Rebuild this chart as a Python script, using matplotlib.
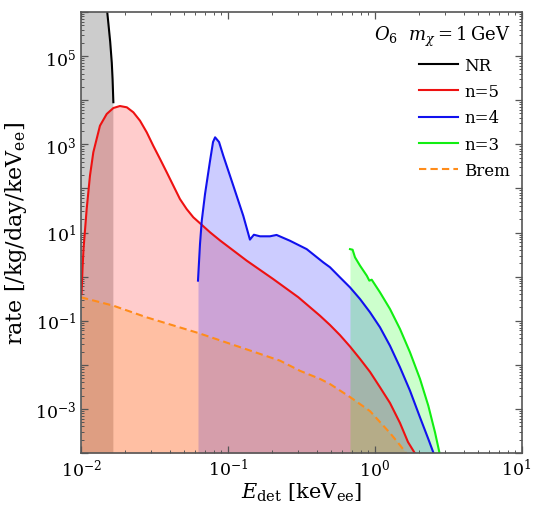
import numpy as np
import matplotlib
matplotlib.use("Agg")
import matplotlib.pyplot as plt
from matplotlib.transforms import ScaledTranslation

plt.rcParams["font.family"] = ["DejaVu Serif"]
plt.rcParams["mathtext.fontset"] = "dejavuserif"

# energies [keVee] and rates [/kg/day/keVee]
nr_x = [0.0100, 0.0120, 0.0135, 0.0146, 0.0150, 0.0154, 0.0158, 0.0162, 0.0164, 0.0166]
nr_y = [1e9, 1e8, 1.5e7, 4e6, 1.2e6, 5e5, 2.1e5, 7e4, 3e4, 9e3]

n5_x = [0.01008, 0.01024, 0.0104, 0.01093, 0.01151, 0.01213, 0.01346, 0.01496, 0.0166,
        0.0184, 0.0205, 0.0227, 0.0252, 0.0280, 0.0310, 0.0345, 0.0383, 0.0425, 0.0471,
        0.0523, 0.0581, 0.0645, 0.0755, 0.0883, 0.134, 0.203, 0.301, 0.422, 0.494,
        0.578, 0.676, 0.791, 0.925, 1.081, 1.265, 1.479, 1.677, 1.90]
n5_y = [0.40, 1.5, 4.2, 34, 194, 660, 2640, 4870, 6650, 7380, 6900, 5320, 3430, 1870,
        929, 464, 232, 115, 57.5, 34.1, 22.1, 16.2, 10.1, 6.6, 2.3, 0.88, 0.34, 0.13,
        0.080, 0.047, 0.026, 0.0136, 0.0069, 0.0031, 0.00136, 4.8e-4, 1.77e-4, 9e-5]

n4_x = [0.0625, 0.0645, 0.0663, 0.0698, 0.0755, 0.0791, 0.0817, 0.0869, 0.0929, 0.1087,
        0.127, 0.141, 0.150, 0.165, 0.193, 0.214, 0.264, 0.343, 0.445, 0.494, 0.578,
        0.676, 0.791, 0.925, 1.081, 1.265, 1.479, 1.730, 2.023, 2.305, 2.49, 2.55]
n4_y = [0.81, 5.5, 18.5, 75, 425, 1127, 1440, 1127, 551, 115, 24, 6.9, 8.9, 8.2, 8.2,
        8.8, 6.5, 4.2, 2.1, 1.63, 0.96, 0.57, 0.31, 0.155, 0.071, 0.027, 0.0088,
        0.00259, 6.45e-4, 2.08e-4, 1.04e-4, 5e-5]

n3_x = [0.676, 0.704, 0.731, 0.791, 0.879, 0.915, 0.950, 1.081, 1.265, 1.479, 1.730,
        2.023, 2.305, 2.56, 2.74, 2.80]
n3_y = [4.2, 4.07, 2.74, 1.77, 1.05, 0.81, 0.85, 0.44, 0.184, 0.065, 0.0192, 0.0048,
        0.00118, 2.94e-4, 1.04e-4, 5e-5]

brem_x = [0.0100, 0.0166, 0.0280, 0.0628, 0.226, 0.309, 0.422, 0.494, 0.676, 0.925,
          1.265, 1.479, 1.61, 1.66]
brem_y = [0.34, 0.219, 0.119, 0.0526, 0.0124, 0.0073, 0.0048, 0.00367, 0.00186,
          8.9e-4, 2.84e-4, 1.51e-4, 1.04e-4, 5e-5]

xticks = [1e-2, 1e-1, 1e0, 1e1]
xticklabels = [r"$10^{-2}$", r"$10^{-1}$", r"$10^{0}$", r"$10^{1}$"]

ymin, ymax = 1e-4, 1e6

fig = plt.figure(figsize=(5.35, 5.10), dpi=100)
ax = fig.add_axes([0.1514, 0.1098, 0.8243, 0.8647])

ax.fill_between(nr_x, nr_y, ymin, color="black", alpha=0.2, lw=0)
ax.fill_between(n5_x, n5_y, ymin, color="red", alpha=0.2, lw=0)
ax.fill_between(n4_x, n4_y, ymin, color="blue", alpha=0.2, lw=0)
ax.fill_between(n3_x, n3_y, ymin, color="#00ff00", alpha=0.2, lw=0)
ax.fill_between(brem_x, brem_y, ymin, color="#ff8c00", alpha=0.2, lw=0)

ax.plot(nr_x, nr_y, color="black", lw=1.5, label="NR")
ax.plot(n5_x, n5_y, color="#ee1111", lw=1.5, label="n=5")
ax.plot(n4_x, n4_y, color="#1111ee", lw=1.5, label="n=4")
ax.plot(n3_x, n3_y, color="#11ee11", lw=1.5, label="n=3")
ax.plot(brem_x, brem_y, color="#ff8c1a", lw=1.5, ls=(0, (3.5, 2)), label="Brem")

ax.set_xscale("log")
ax.set_yscale("log")
ax.set_xlim(1e-2, 1e1)
ax.set_ylim(ymin, ymax)

ax.set_xticks(xticks, labels=xticklabels)
ax.yaxis.set_major_locator(matplotlib.ticker.LogLocator(base=10, numticks=20))
ax.yaxis.set_minor_locator(matplotlib.ticker.LogLocator(base=10, subs=np.arange(2, 10), numticks=20))
ax.yaxis.set_major_formatter(matplotlib.ticker.FuncFormatter(
    lambda v, p: r"$10^{%d}$" % round(np.log10(v)) if round(np.log10(v)) % 2 else ""))
ax.yaxis.set_minor_formatter(matplotlib.ticker.NullFormatter())

ax.tick_params(which="both", direction="in", top=True, right=True, labelsize=12.5, color="#555555")
ax.tick_params(which="major", length=5, width=0.9)
ax.tick_params(which="minor", length=2.5, width=0.7)
for s in ax.spines.values():
    s.set_color("#555555")
    s.set_linewidth(1.2)

# nudge the last x label so it stays inside the canvas
last = ax.xaxis.get_major_ticks()[-1].label1
last.set_transform(last.get_transform() + ScaledTranslation(-6 / 100, 0, fig.dpi_scale_trans))

ax.set_xlabel(r"$E_{\rm det}$ [keV$_{\rm ee}$]", fontsize=15, labelpad=1)
ax.set_ylabel(r"rate [/kg/day/keV$_{\rm ee}$]", fontsize=16, labelpad=4)

leg = ax.legend(loc="upper right", frameon=False, fontsize=12, handlelength=2.3,
                handletextpad=0.4, labelspacing=0.55,
                title=r"$O_6$  $m_\chi = 1\,\mathrm{GeV}$", title_fontsize=13,
                alignment="right", borderaxespad=0.3)

fig.savefig("out.png", dpi=100)
